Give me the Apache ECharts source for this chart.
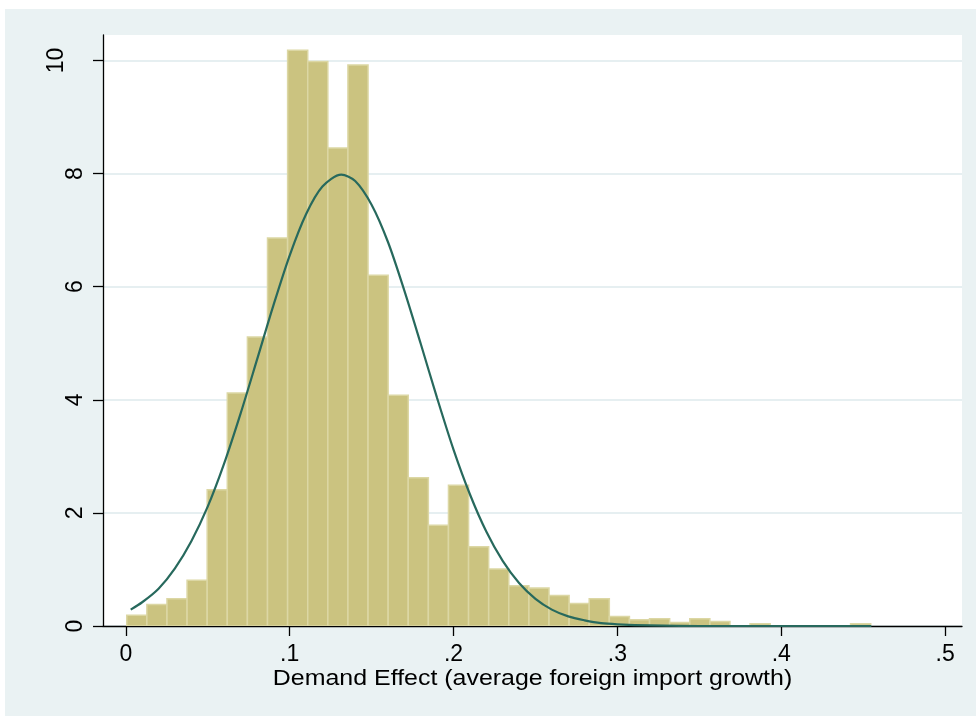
<!DOCTYPE html>
<html>
<head>
<meta charset="utf-8">
<script src="https://cdn.jsdelivr.net/npm/echarts@6/dist/echarts.min.js"></script>
<style>
  html, body { margin: 0; padding: 0; background: #ffffff; }
  #chart { width: 976px; height: 716px; }
</style>
</head>
<body>
<div id="chart"></div>
<script>
// Histogram bins (density scale)
const binStart = 0.0006;
const binWidth = 0.01227;
const densities = [
  0.19, 0.38, 0.48, 0.81, 2.41, 4.12, 5.11, 6.86, 10.18, 9.98,
  8.45, 9.92, 6.20, 4.08, 2.62, 1.78, 2.49, 1.40, 1.01, 0.71,
  0.67, 0.54, 0.40, 0.48, 0.17, 0.11, 0.13, 0.06, 0.13, 0.08,
  0, 0.04, 0, 0, 0, 0, 0.04
];
// Overlaid normal density curve
const curveX = [0.003, 0.01, 0.02, 0.03, 0.04, 0.05, 0.06, 0.07, 0.08, 0.09,
  0.10, 0.11, 0.12, 0.1315, 0.14, 0.15, 0.16, 0.17, 0.18, 0.19,
  0.20, 0.21, 0.22, 0.23, 0.24, 0.25, 0.26, 0.27, 0.28, 0.29,
  0.30, 0.32, 0.35, 0.40, 0.455];
const curveY = [0.29, 0.42, 0.66, 1.02, 1.50, 2.11, 2.87, 3.75, 4.70, 5.66,
  6.55, 7.28, 7.77, 7.98, 7.87, 7.45, 6.79, 5.93, 4.99, 4.03,
  3.12, 2.33, 1.67, 1.15, 0.76, 0.48, 0.29, 0.17, 0.10, 0.05,
  0.03, 0.01, 0.00, 0.00, 0.00];
// Axis ticks
const xTickValues = [0, 0.1, 0.2, 0.3, 0.4, 0.5];
const xTickLabels = ['0', '.1', '.2', '.3', '.4', '.5'];
const yTickValues = [0, 2, 4, 6, 8, 10];
const yTickLabels = ['0', '2', '4', '6', '8', '10'];
const xTitle = 'Demand Effect (average foreign import growth)';

const barData = densities.map((d, i) => [binStart + i * binWidth, binStart + (i + 1) * binWidth, d]);
const lineData = curveX.map((x, i) => [x, curveY[i]]);

const chart = echarts.init(document.getElementById('chart'), null, { renderer: 'canvas' });

function renderBar(params, api) {
  const x0 = api.value(0), x1 = api.value(1), y = api.value(2);
  if (!(y > 0)) return null;
  const p0 = api.coord([x0, 0]);
  const p1 = api.coord([x1, y]);
  return {
    type: 'rect',
    shape: { x: p0[0], y: p1[1], width: p1[0] - p0[0], height: p0[1] - p1[1] },
    style: { fill: '#cbc380', stroke: '#dcd7a4', lineWidth: 1.5 }
  };
}

const labelFont = '"Liberation Sans", Arial, sans-serif';

const option = {
  backgroundColor: '#eaf2f3',
  animation: false,
  graphic: [
    { type: 'rect', left: 0, top: 0, shape: { width: 976, height: 9 }, style: { fill: '#ffffff' }, silent: true },
    { type: 'rect', left: 0, top: 0, shape: { width: 5, height: 716 }, style: { fill: '#ffffff' }, silent: true },
    {
      type: 'text', x: 532.5, y: 679, scaleX: 1.16, originX: 0, originY: 0,
      style: {
        text: xTitle, fill: '#000000', font: '21.5px "Liberation Sans", Arial, sans-serif',
        align: 'center', verticalAlign: 'middle'
      }
    }
  ],
  grid: {
    left: 103, right: 14, top: 35, bottom: 90,
    show: true, backgroundColor: '#ffffff', borderWidth: 0
  },
  xAxis: {
    type: 'value', min: -0.0139, max: 0.5103,
    axisLine: { show: true, onZero: false, lineStyle: { color: '#000000', width: 1.3 } },
    axisTick: { show: true, customValues: xTickValues, length: 10, lineStyle: { color: '#000000', width: 1.3 } },
    axisLabel: {
      customValues: xTickValues,
      formatter: (v) => { const i = xTickValues.findIndex(t => Math.abs(t - v) < 1e-9); return i >= 0 ? xTickLabels[i] : ''; },
      fontFamily: labelFont, fontSize: 23, color: '#000000', margin: 17
    },
    splitLine: { show: false }
  },
  yAxis: {
    type: 'value', min: 0, max: 10.45, interval: 2,
    axisLine: { show: true, onZero: false, lineStyle: { color: '#000000', width: 1.3 } },
    axisTick: { show: true, customValues: yTickValues, length: 10, lineStyle: { color: '#000000', width: 1.3 } },
    axisLabel: {
      rotate: 90,
      customValues: yTickValues,
      formatter: (v) => {
        const i = yTickValues.indexOf(v);
        if (i < 0) return '';
        const t = yTickLabels[i];
        return t.length > 1 ? '{w|' + t + '}' : t;
      },
      rich: { w: { fontFamily: labelFont, fontSize: 23, color: '#000000', padding: [0, 0, 19, 0] } },
      fontFamily: labelFont, fontSize: 23, color: '#000000', margin: 16
    },
    splitLine: { show: true, lineStyle: { color: '#e6eff1', width: 1.8 } }
  },
  series: [
    {
      type: 'custom', renderItem: renderBar, data: barData,
      encode: { x: [0, 1], y: 2 }, z: 2, clip: true
    },
    {
      type: 'line', data: lineData, smooth: 0.3, showSymbol: false, z: 3,
      lineStyle: { color: '#27695d', width: 2.2 }
    }
  ]
};
chart.setOption(option);
</script>
</body>
</html>
